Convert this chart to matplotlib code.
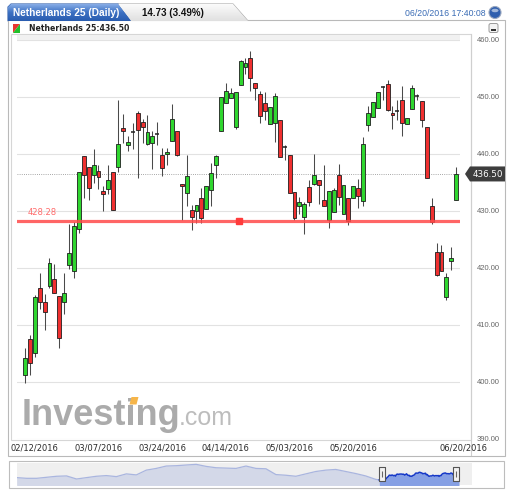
import matplotlib
matplotlib.use('Agg')
import matplotlib.pyplot as plt
from matplotlib.patches import Polygon, Rectangle, FancyBboxPatch, Circle, Ellipse
from matplotlib.colors import LinearSegmentedColormap
import matplotlib.transforms as mtransforms
import numpy as np

# ---------------- data ----------------
opens = [401.2, 407.5, 405.0, 416.5, 414.0, 416.8, 418.0, 415.1, 414.1, 420.6,
         419.5, 426.9, 439.7, 437.8, 436.4, 437.1, 433.5, 433.8, 436.8, 437.8,
         444.5, 441.6, 443.8, 447.2, 445.7, 441.8, 441.9, 443.5, 439.9, 440.0,
         442.3, 444.1, 434.8, 433.2, 430.2, 430.0, 432.2, 430.4, 433.7, 438.1,
         444.1, 449.0, 449.8, 444.7, 452.1, 455.3, 456.9, 452.5, 450.6, 449.0,
         445.3, 445.5, 446.0, 441.2, 439.8, 433.4, 430.8, 429.0, 434.2, 434.7,
         435.4, 432.0, 428.4, 429.8, 436.3, 429.5, 432.3, 432.2, 434.1, 431.7,
         445.0, 446.5, 448.1, 451.8, 452.3, 447.2, 447.5, 449.4, 445.3, 447.9,
         450.1, 449.3, 444.7, 430.8, 422.8, 422.8, 414.9, 421.3, 432.0]
highs = [405.9, 408.3, 415.2, 419.2, 415.5, 421.7, 420.7, 415.1, 419.1, 427.7,
         428.0, 436.8, 439.7, 437.8, 440.8, 438.1, 434.4, 438.1, 436.8, 449.5,
         447.0, 443.1, 445.4, 447.5, 446.1, 446.9, 444.0, 445.6, 441.1, 441.1,
         448.8, 444.1, 434.8, 439.9, 431.1, 431.1, 434.0, 434.3, 438.4, 439.9,
         450.0, 452.5, 451.6, 450.9, 456.5, 456.9, 458.0, 452.5, 451.0, 450.8,
         448.3, 450.7, 446.0, 441.5, 439.8, 433.4, 432.5, 431.5, 435.5, 440.0,
         435.5, 438.0, 433.5, 434.1, 438.2, 434.5, 432.3, 434.4, 435.7, 443.0,
         448.5, 449.1, 450.9, 452.0, 453.0, 448.4, 449.5, 451.9, 446.4, 452.1,
         450.5, 449.3, 444.7, 432.2, 424.4, 424.1, 419.2, 423.6, 437.8]
lows = [399.8, 401.3, 404.4, 412.8, 409.1, 416.5, 415.6, 406.0, 412.0, 419.8,
        418.2, 426.1, 432.3, 432.0, 434.9, 433.8, 430.0, 432.9, 430.2, 436.8,
        442.0, 440.5, 440.8, 435.8, 442.0, 441.6, 437.3, 441.6, 436.1, 438.1,
        442.3, 439.6, 428.5, 430.8, 426.7, 427.9, 427.9, 430.3, 430.8, 435.8,
        444.1, 448.9, 449.8, 444.3, 452.1, 454.0, 451.1, 449.5, 445.5, 446.0,
        445.2, 442.1, 439.5, 438.9, 433.2, 428.4, 429.5, 426.0, 430.9, 434.5,
        431.3, 430.9, 427.0, 429.8, 431.0, 429.4, 427.5, 432.2, 430.6, 430.8,
        444.1, 446.5, 448.1, 449.5, 447.5, 444.3, 446.0, 443.2, 445.3, 447.9,
        449.4, 444.7, 435.8, 427.7, 418.6, 419.4, 414.4, 419.6, 432.0]
closes = [404.2, 403.4, 414.9, 414.0, 412.3, 420.9, 415.6, 407.8, 415.6, 422.7,
          427.3, 436.8, 436.4, 434.1, 438.0, 436.0, 432.9, 435.5, 430.2, 441.7,
          444.1, 442.1, 443.6, 444.2, 444.7, 443.8, 443.1, 443.3, 437.5, 440.4,
          446.1, 439.9, 434.4, 436.1, 428.9, 431.1, 428.8, 434.3, 436.7, 439.6,
          450.0, 451.0, 450.7, 450.9, 456.3, 455.9, 453.4, 451.5, 446.7, 447.6,
          448.3, 450.2, 439.5, 441.1, 433.2, 428.7, 431.5, 431.3, 431.6, 436.3,
          434.5, 430.9, 433.5, 433.7, 432.4, 434.5, 428.3, 434.4, 432.6, 441.7,
          447.2, 449.1, 450.9, 451.6, 447.8, 446.8, 447.4, 445.4, 446.4, 451.6,
          450.0, 446.0, 435.8, 428.0, 418.8, 419.4, 418.4, 421.8, 436.5]

tick_idx = [2, 15, 28, 41, 54, 67, 88]
tick_labels = ['02/12/2016', '03/07/2016', '03/24/2016', '04/14/2016',
               '05/03/2016', '05/20/2016', '06/20/2016']
y_ticks = [390, 400, 410, 420, 430, 440, 450, 460]

level_value = 428.28
level_marker_idx = 43.7
last_price = 436.50

# long history shown in the navigator (sampled every 11 sessions)
nav_history = [420.0, 415.3, 415.3, 422.3, 429.3, 431.6, 410.6, 420.0, 429.3, 433.9,
               426.9, 445.6, 438.6, 471.2, 482.9, 499.2, 501.5, 506.2, 510.8, 496.8,
               487.5, 485.2, 482.9, 499.2, 482.9, 480.5, 440.9, 436.3, 429.3, 445.6,
               461.9, 471.2, 475.9, 461.9, 447.9, 431.6, 408.3]
nav_step = 11
nav_sel_start = 400

title_text = 'Netherlands 25 (Daily)'
change_text = '14.73 (3.49%)'
timestamp_text = '06/20/2016 17:40:08'
instrument = 'Netherlands 25'

# ---------------- figure ----------------
W, H = 512, 494
fig = plt.figure(figsize=(W / 100, H / 100), dpi=100)
fig.patch.set_facecolor('white')

bg = fig.add_axes([0, 0, 1, 1], zorder=0)
bg.axis('off')

def add(p):
    bg.add_patch(p)
    return p

# outer panel
add(Rectangle((7.5, 20.5), 497, 435, fc='white', ec='#b9b9b9', lw=0.8))
# tabs
tab2 = add(Polygon([(118, 4), (233, 4), (248, 21), (131, 21)], closed=True,
                   fc='#efefef', ec='#a9a9a9', lw=0.8))
g2 = bg.imshow(np.linspace(0, 1, 40).reshape(-1, 1), extent=(118, 248, 21, 4),
               cmap=LinearSegmentedColormap.from_list('g2', ['#fbfbfb', '#e0e0e0']),
               aspect='auto', zorder=1)
g2.set_clip_path(tab2)
tab1 = add(Polygon([(8, 21), (8, 7), (11, 4), (118, 4), (131, 21)], closed=True,
                   fc='#3b6fc0', ec='#2c5aa8', lw=0.8))
g1 = bg.imshow(np.linspace(0, 1, 40).reshape(-1, 1), extent=(8, 131, 21, 4),
               cmap=LinearSegmentedColormap.from_list('g1', ['#86ace6', '#3c70c2', '#2a5db0']),
               aspect='auto', zorder=1)
g1.set_clip_path(tab1)
tab1.set_zorder(0.5)
tab2.set_zorder(0.5)

bg.text(13, 13, title_text, color='white', fontsize=7.3, fontweight='bold',
        family='Liberation Sans', va='center', ha='left', zorder=3)
bg.text(142, 13, change_text, color='#111111', fontsize=7, fontweight='bold',
        family='Liberation Sans', va='center', ha='left', zorder=3)
bg.text(405, 13.5, timestamp_text, color='#3a6cb5', fontsize=6.3,
        family='Liberation Sans', va='center', ha='left', zorder=3)
add(Circle((495, 12.5), 6, fc='#2f5fae', ec='#9aa8c0', lw=0.8, zorder=3))
add(Ellipse((495, 10.5), 7, 3.5, fc='white', alpha=0.55, ec='none', zorder=4))

# second header row
add(Polygon([(13, 24), (20, 24), (13, 33)], closed=True, fc='#e8362f', ec='none'))
add(Polygon([(20, 24), (20, 33), (13, 33)], closed=True, fc='#22c02a', ec='none'))
bg.text(29, 28.5, f'{instrument}:{last_price:.2f}', color='#222222', fontsize=5.6,
        fontweight='bold', va='center', ha='left')
add(FancyBboxPatch((489, 23.5), 9, 9, boxstyle='round,pad=0,rounding_size=1.8',
                   fc='#f3f3f3', ec='#9a9a9a', lw=0.7))
add(Rectangle((490.8, 28.8), 5.4, 1.8, fc='#333333', ec='none'))

# inner chart box
add(Rectangle((10.5, 34.5), 460, 405, fc='none', ec='#d6d6d6', lw=0.8))
bg.plot([470.5, 470.5], [34.5, 455], color='#cfcfcf', lw=0.8)
add(Rectangle((17, 35.5), 443, 4.5, fc='#f1f1f1', ec='none'))
bg.imshow(np.linspace(0, 1, 20).reshape(-1, 1), extent=(8, 504, 455, 445),
          cmap=LinearSegmentedColormap.from_list('db', ['#ffffff', '#eaf0f8']),
          aspect='auto', zorder=0.2)

# watermark
bg.text(22, 425, 'Investing', fontsize=26, fontweight='bold', family='Liberation Sans',
        color='#ababab', va='baseline', ha='left', zorder=1)
bg.text(179, 425, '.com', fontsize=18, family='Liberation Sans',
        color='#bdbdbd', va='baseline', ha='left', zorder=1)
add(Polygon([(129.5, 404.5), (131.5, 397), (138.5, 397), (136.5, 404.5)], closed=True,
            fc='#f6b549', ec='none', zorder=2))

# navigator frame
add(Rectangle((8.5, 460.5), 495.5, 27, fc='white', ec='#bdbdbd', lw=0.8))

bg.set_xlim(0, W)
bg.set_ylim(H, 0)
bg.set_autoscale_on(False)

# ---------------- main candlestick axes ----------------
ax = fig.add_axes([17 / W, 1 - 439 / H, 443 / W, 399 / H], zorder=2)
ax.patch.set_visible(False)
x = np.arange(len(closes))
o = np.array(opens); c = np.array(closes); h = np.array(highs); l = np.array(lows)

ax.vlines(x, l, h, color='#4a4a4a', lw=0.75, zorder=2)
doji = np.abs(c - o) < 0.3
up = (c >= o) & ~doji
dn = (c < o) & ~doji
w = 0.8
ax.bar(x[up], (c - o)[up], bottom=o[up], width=w, color='#2fd62f',
       edgecolor='#1e1e1e', lw=0.6, zorder=3)
ax.bar(x[dn], (o - c)[dn], bottom=c[dn], width=w, color='#f03030',
       edgecolor='#1e1e1e', lw=0.6, zorder=3)
ax.hlines(o[doji], x[doji] - w / 2, x[doji] + w / 2, color='#222222', lw=1.1, zorder=3)

ax.set_xlim(-1.63, 88.78)
ax.set_ylim(390, 460)

ax.axhline(level_value, color='#ff4a4a', lw=2.3, alpha=0.85, zorder=4)
ax.plot([level_marker_idx], [level_value], 's', color='#ff3b3b', ms=4.5, zorder=5)
ax.annotate(f'{level_value:.2f}', (0.6, level_value), xytext=(0, 4.3),
            textcoords='offset points', color='#ff6b6b', fontsize=6,
            va='baseline', ha='left', zorder=5)
ax.axhline(last_price, color='#8a8a8a', lw=0.6, ls=(0, (1, 1.6)), zorder=1)

ax.yaxis.tick_right()
ax.set_yticks(y_ticks)
ax.set_yticklabels([f'{v:.2f}' for v in y_ticks], fontfamily='Liberation Sans')
ax.tick_params(axis='y', length=0, pad=12, labelsize=5.5, labelcolor='#666666')
ax.grid(axis='y', color='#e2e2e2', lw=0.8, zorder=0)
ax.set_axisbelow(True)
ax.set_xticks(tick_idx)
ax.set_xticklabels(tick_labels)
ax.tick_params(axis='x', length=0, pad=3, labelsize=6, labelcolor='#2a2a2a')
last_lbl = ax.get_xticklabels()[-1]
last_lbl.set_transform(last_lbl.get_transform() +
                       mtransforms.ScaledTranslation(0.07, 0, fig.dpi_scale_trans))
for s in ax.spines.values():
    s.set_visible(False)

# price tag on the right axis, placed from the last price
y_disp = ax.transData.transform((0, last_price))[1]
ty = H - y_disp
bg.add_patch(Polygon([(465, ty), (470, ty - 7.5), (505, ty - 7.5), (505, ty + 7.5),
                      (470, ty + 7.5)], closed=True, fc='#3d3d3d', ec='none', zorder=5))
bg.text(487.5, ty + 0.3, f'{last_price:.2f}', color='white', fontsize=6.3,
        ha='center', va='center', zorder=6)

# ---------------- navigator ----------------
nav = fig.add_axes([16.7 / W, 1 - 484.5 / H, 455 / W, 21.8 / H], zorder=2)
nav.set_facecolor('#efefef')
hx = np.arange(len(nav_history)) * nav_step
sx = nav_sel_start + np.arange(len(closes))
hx_full = np.append(hx, sx[0])
hy_full = np.append(nav_history, closes[0])
nav.fill_between(hx_full, 300, hy_full, color='#d3d8e8', lw=0)
nav.plot(hx_full, hy_full, color='#a9b5df', lw=0.9)
nav.fill_between(sx, 300, closes, color='#86a0e4', lw=0)
nav.plot(sx, closes, color='#1538c8', lw=1.1)
nav.set_xlim(0, 502)
nav.set_ylim(373, 522)
nav.set_xticks([]); nav.set_yticks([])
for s in nav.spines.values():
    s.set_visible(False)
trans = mtransforms.blended_transform_factory(nav.transData, nav.transAxes)
handle = [(-0.4, -1), (0.4, -1), (0.4, 1), (-0.4, 1), (-0.4, -1)]
for hxp in (sx[0] + 3.5, sx[-1] - 3.5):
    nav.plot([hxp], [0.5], marker=handle, ms=9.5, mfc='#f2f2f2', mec='#555555',
             mew=0.8, transform=trans, clip_on=False, zorder=5)
    nav.plot([hxp], [0.5], marker='|', ms=4.5, mec='#666666', mew=0.8,
             transform=trans, clip_on=False, zorder=6)

fig.savefig('out.png', dpi=100, facecolor='white')
